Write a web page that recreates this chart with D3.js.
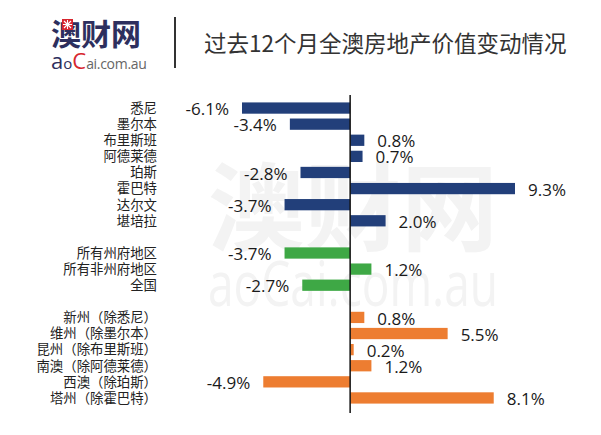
<!DOCTYPE html>
<html>
<head>
<meta charset="utf-8">
<script src="https://cdn.jsdelivr.net/npm/d3@7/dist/d3.min.js"></script>
<style>
  html, body { margin: 0; padding: 0; background: #ffffff; }
  svg { display: block; }
</style>
</head>
<body>
<script>
// ---- data ----
const categories = ["悉尼","墨尔本","布里斯班","阿德莱德","珀斯","霍巴特","达尔文","堪培拉",
  "所有州府地区","所有非州府地区","全国",
  "新州（除悉尼）","维州（除墨尔本）","昆州（除布里斯班）","南澳（除阿德莱德）","西澳（除珀斯）","塔州（除霍巴特）"];
const values = [-6.1,-3.4,0.8,0.7,-2.8,9.3,-3.7,2.0, -3.7,1.2,-2.7, 0.8,5.5,0.2,1.2,-4.9,8.1];
const groupSizes = [8, 3, 6];
const groupColors = ["#223f7a", "#3ea845", "#ed7d31"];
const titleText = "过去12个月全澳房地产价值变动情况";

// ---- layout ----
const W = 601, H = 435;
const svg = d3.select("body").append("svg").attr("width", W).attr("height", H);
svg.append("rect").attr("width", W).attr("height", H).attr("fill", "#ffffff");

const rows = [];
const domain = [];
let k = 0;
groupSizes.forEach((n, g) => {
  if (g > 0) domain.push("__gap" + g);
  for (let i = 0; i < n; i++, k++) {
    rows.push({ cat: categories[k], value: values[k], group: g });
    domain.push(categories[k]);
  }
});

const x = d3.scaleLinear().domain([-6.1, 9.3]).range([242, 515]);
const y = d3.scaleBand().domain(domain).range([100, 406]).paddingInner(0.3).paddingOuter(0.15);

// ---- watermark ----
const wm = svg.append("g").attr("fill", "#f3f3f3");
wm.append("text").attr("x", 208).attr("y", 243)
  .attr("font-family", "Noto Sans CJK SC, sans-serif").attr("font-weight", 700)
  .attr("font-size", 96).attr("textLength", 290).attr("lengthAdjust", "spacingAndGlyphs")
  .text("澳财网");
wm.append("text").attr("x", 208).attr("y", 306)
  .attr("font-family", "Open Sans, sans-serif")
  .attr("font-size", 62).attr("textLength", 290).attr("lengthAdjust", "spacingAndGlyphs")
  .text("aoCai.com.au");

// ---- header ----
const logo = svg.append("g");
logo.append("text").attr("x", 51).attr("y", 45)
  .attr("font-family", "Noto Sans CJK SC, sans-serif").attr("font-weight", 700)
  .attr("font-size", 30).attr("fill", "#2d2f5e").text("澳财网");
logo.append("rect").attr("x", 62).attr("y", 19).attr("width", 11).attr("height", 11).attr("fill", "#d7262e");
logo.append("path").attr("d", "M64,21L71,28M71,21L64,28M67.5,20V29M63,24.5H72")
  .attr("stroke", "#ffffff").attr("stroke-width", 1.1);
const sub = logo.append("text").attr("x", 51).attr("y", 69)
  .attr("font-family", "Open Sans, sans-serif");
sub.append("tspan").attr("font-size", 22).attr("fill", "#2d2f5e").text("a");
sub.append("tspan").attr("font-size", 15).attr("fill", "#2d2f5e").text("o");
sub.append("tspan").attr("font-size", 22).attr("fill", "#d7262e").text("C");
sub.append("tspan").attr("font-size", 14).attr("fill", "#666666").attr("letter-spacing", -0.3).text("ai.com.au");

svg.append("line").attr("x1", 175).attr("x2", 175).attr("y1", 17).attr("y2", 68)
  .attr("stroke", "#333333").attr("stroke-width", 2);

svg.append("text").attr("x", 204).attr("y", 52)
  .attr("font-family", "Noto Sans CJK SC, sans-serif")
  .attr("font-size", 22.5).attr("fill", "#333333").text(titleText);

// ---- bars ----
svg.append("g").selectAll("rect").data(rows).join("rect")
  .attr("x", d => x(Math.min(0, d.value)))
  .attr("width", d => Math.abs(x(d.value) - x(0)))
  .attr("y", d => y(d.cat))
  .attr("height", y.bandwidth())
  .attr("fill", d => groupColors[d.group]);

svg.append("line").attr("x1", x(0)).attr("x2", x(0)).attr("y1", 95).attr("y2", 413)
  .attr("stroke", "#111111").attr("stroke-width", 1.5);

// category labels
svg.append("g").selectAll("text").data(rows).join("text")
  .attr("x", 157)
  .attr("y", d => y(d.cat) + y.bandwidth() / 2)
  .attr("dy", "0.36em")
  .attr("text-anchor", "end")
  .attr("font-family", "Noto Sans CJK SC, sans-serif")
  .attr("font-size", 13.4)
  .attr("fill", "#222222")
  .text(d => d.cat);

// value labels
svg.append("g").selectAll("text").data(rows).join("text")
  .attr("x", d => d.value < 0 ? x(d.value) - 13 : x(d.value) + 13)
  .attr("y", d => y(d.cat) + y.bandwidth() / 2 + 1)
  .attr("dy", "0.36em")
  .attr("text-anchor", d => d.value < 0 ? "end" : "start")
  .attr("font-family", "Open Sans, sans-serif")
  .attr("font-size", 17)
  .attr("fill", "#1a1a1a")
  .text(d => d.value.toFixed(1) + "%");
</script>
</body>
</html>
